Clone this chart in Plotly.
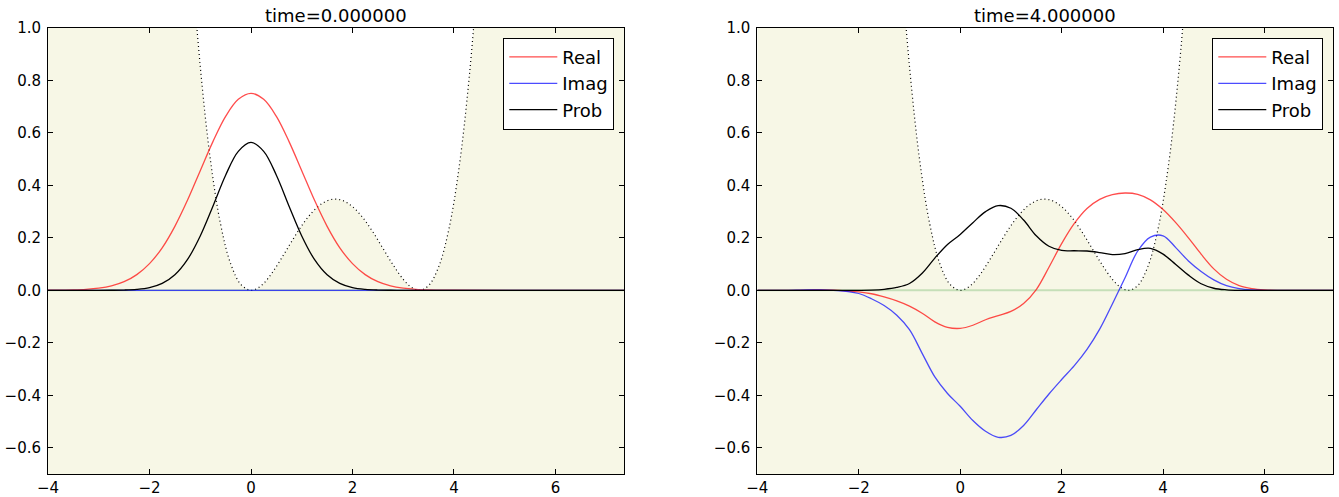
import plotly.graph_objects as go

# ---------------- data ----------------
TITLES = ["time=0.000000", "time=4.000000"]
SERIES_NAMES = ["Real", "Imag", "Prob"]

# double-well potential (same in both panels)
X_POT = [-4.0, -3.0, -2.0, -1.4, -1.2, -1.0, -0.8, -0.6, -0.4, -0.2, 0.0,
         0.2, 0.4, 0.6, 0.8, 1.0, 1.2, 1.4, 1.6, 1.8, 2.0, 2.2, 2.4, 2.6, 2.8, 3.0,
         3.15, 3.32, 3.5, 3.7, 3.9, 4.1, 4.3, 4.5, 4.7, 5.0, 5.6, 6.4, 7.35]
V_POT = [39.3, 16.5, 5.18, 2.00, 1.347, 0.855, 0.498, 0.253, 0.101, 0.0227, 0.0,
         0.0178, 0.0625, 0.122, 0.186, 0.2465, 0.2964, 0.331, 0.347, 0.343, 0.319,
         0.278, 0.223, 0.160, 0.097, 0.042, 0.0131, 0.0, 0.0182, 0.0905, 0.234,
         0.468, 0.813, 1.291, 1.927, 3.23, 7.47, 17.8, 40.2]
FLOOR = -1.0

# time = 0
X0 = [-4.0, -3.75, -3.5, -3.25, -3.0, -2.75, -2.5, -2.25, -2.0, -1.75, -1.5, -1.25,
      -1.0, -0.75, -0.5, -0.25, 0.0, 0.25, 0.5, 0.75, 1.0, 1.25, 1.5, 1.75, 2.0,
      2.25, 2.5, 2.75, 3.0, 3.25, 3.5, 3.75, 4.0, 7.35]
REAL0 = [0.0003, 0.0007, 0.0016, 0.0038, 0.0083, 0.017, 0.033, 0.060, 0.102, 0.162,
         0.244, 0.344, 0.456, 0.567, 0.663, 0.728, 0.751, 0.728, 0.663, 0.567, 0.456,
         0.344, 0.244, 0.162, 0.102, 0.060, 0.033, 0.017, 0.0083, 0.0038, 0.0016,
         0.0007, 0.0003, 0.0]
IMAG0 = [0.0, 0.0, 0.0, 0.0, 0.0, 0.0, 0.0, 0.0, 0.0, 0.0, 0.0, 0.0, 0.0, 0.0, 0.0,
         0.0, 0.0, 0.0, 0.0, 0.0, 0.0, 0.0, 0.0, 0.0, 0.0, 0.0, 0.0, 0.0, 0.0, 0.0,
         0.0, 0.0, 0.0, 0.0]
PROB0 = [0.0, 0.0, 0.0, 0.0, 0.0, 0.0003, 0.0011, 0.0036, 0.0103, 0.0264, 0.0594,
         0.118, 0.2075, 0.321, 0.439, 0.530, 0.564, 0.530, 0.439, 0.321, 0.2075,
         0.118, 0.0594, 0.0264, 0.0103, 0.0036, 0.0011, 0.0003, 0.0, 0.0, 0.0, 0.0,
         0.0, 0.0]

# time = 4
X4 = [-4.0, -3.5, -3.0, -2.75, -2.5, -2.25, -2.0, -1.75, -1.5, -1.25, -1.0, -0.75,
      -0.5, -0.25, 0.0, 0.25, 0.5, 0.75, 1.0, 1.25, 1.5, 1.75, 2.0, 2.25, 2.5, 2.75,
      3.0, 3.25, 3.5, 3.75, 4.0, 4.25, 4.5, 4.75, 5.0, 5.25, 5.5, 5.75, 6.0, 6.25,
      6.5, 7.35]
REAL4 = [0.0, 0.0, 0.001, 0.002, 0.001, -0.002, -0.006, -0.013, -0.025, -0.040,
         -0.060, -0.087, -0.120, -0.141, -0.145, -0.133, -0.112, -0.096, -0.080,
         -0.050, 0.003, 0.088, 0.178, 0.255, 0.312, 0.347, 0.365, 0.371, 0.366,
         0.345, 0.308, 0.258, 0.200, 0.138, 0.082, 0.042, 0.018, 0.007, 0.002, 0.0,
         0.0, 0.0]
IMAG4 = [0.0, 0.0, 0.002, 0.002, 0.0, -0.004, -0.012, -0.032, -0.058, -0.095,
         -0.150, -0.240, -0.330, -0.393, -0.442, -0.496, -0.537, -0.560, -0.553,
         -0.515, -0.455, -0.395, -0.340, -0.287, -0.225, -0.148, -0.052, 0.048,
         0.150, 0.203, 0.208, 0.163, 0.112, 0.072, 0.040, 0.018, 0.007, 0.002, 0.0,
         0.0, 0.0, 0.0]
PROB4 = [0.0, 0.0, 0.0, 0.0, 0.0, 0.0, 0.0002, 0.001, 0.004, 0.011, 0.026, 0.065,
         0.123, 0.175, 0.213, 0.258, 0.300, 0.323, 0.313, 0.268, 0.208, 0.168, 0.152,
         0.151, 0.150, 0.144, 0.136, 0.140, 0.155, 0.160, 0.138, 0.099, 0.058, 0.025,
         0.008, 0.002, 0.0, 0.0, 0.0, 0.0, 0.0, 0.0]

ZERO_X = [-4.0, 7.35]
ZERO_Y = [0.0, 0.0]

PANELS = [
    (X0, REAL0, IMAG0, PROB0),
    (X4, REAL4, IMAG4, PROB4),
]

X_RANGE = [-4.0, 7.35]
Y_RANGE = [-0.7, 1.0]

# ---------------- styles ----------------
FONT = "DejaVu Sans"
BEIGE = "#f7f7e6"
COLORS = ["rgba(255,0,0,0.7)", "rgba(0,0,255,0.7)", "black"]
ZERO_COLOR = "rgba(0,128,0,0.2)"

fig = go.Figure()

for i, (xs, re, im, pr) in enumerate(PANELS):
    sfx = "" if i == 0 else str(i + 1)
    xa, ya = "x" + sfx, "y" + sfx
    leg = "legend" + sfx
    # baseline for the fill
    fig.add_trace(go.Scatter(x=X_POT, y=[FLOOR] * len(X_POT), mode="lines",
                             line=dict(width=0, color=BEIGE), hoverinfo="skip",
                             showlegend=False, xaxis=xa, yaxis=ya))
    fig.add_trace(go.Scatter(x=X_POT, y=V_POT, mode="lines", fill="tonexty",
                             fillcolor=BEIGE, line=dict(width=0, color=BEIGE, shape="spline"),
                             hoverinfo="skip", showlegend=False, xaxis=xa, yaxis=ya))
    fig.add_trace(go.Scatter(x=X_POT, y=V_POT, mode="lines",
                             line=dict(width=1.2, color="black", dash="1px,3px", shape="spline"),
                             showlegend=False, xaxis=xa, yaxis=ya))
    fig.add_trace(go.Scatter(x=ZERO_X, y=ZERO_Y, mode="lines",
                             line=dict(width=2, color=ZERO_COLOR),
                             showlegend=False, xaxis=xa, yaxis=ya))
    for name, ys, col in zip(SERIES_NAMES, (re, im, pr), COLORS):
        fig.add_trace(go.Scatter(x=xs, y=ys, mode="lines", name=name,
                                 line=dict(width=1.3, color=col, shape="spline"),
                                 legend=leg, xaxis=xa, yaxis=ya))

axis_common = dict(
    showline=True, linecolor="black", linewidth=1, mirror="ticks",
    ticks="inside", ticklen=5, tickwidth=1, tickcolor="black",
    showgrid=False, zeroline=False, automargin=False,
    tickfont=dict(family=FONT, size=15, color="black"),
)

L, R, T, B = 48, 6, 28, 23
W, H = 1339, 497
pw = W - L - R
ph = H - T - B
d1 = [0.0, (624 - L) / pw]
d2 = [(757.3 - L) / pw, 1.0]

legend_common = dict(xanchor="right", yanchor="top", bgcolor="white",
                     bordercolor="black", borderwidth=1, traceorder="normal",
                     itemwidth=48, font=dict(family=FONT, size=18, color="black"))

fig.update_layout(
    width=W, height=H,
    margin=dict(l=L, r=R, t=T, b=B, pad=0, autoexpand=False),
    paper_bgcolor="white", plot_bgcolor="white",
    font=dict(family=FONT, color="black"),
    xaxis=dict(domain=d1, range=X_RANGE, dtick=2, tick0=0, ticklabelstandoff=0, **axis_common),
    yaxis=dict(domain=[0, 1], range=Y_RANGE, dtick=0.2, tick0=0, tickformat=".1f",
               ticklabelstandoff=3, **axis_common),
    xaxis2=dict(domain=d2, range=X_RANGE, dtick=2, tick0=0, anchor="y2",
                ticklabelstandoff=0, **axis_common),
    yaxis2=dict(domain=[0, 1], range=Y_RANGE, dtick=0.2, tick0=0, tickformat=".1f",
                anchor="x2", ticklabelstandoff=3, **axis_common),
    legend=dict(x=(614.3 - L) / pw, y=1 - (37.7 - T) / ph, **legend_common),
    legend2=dict(x=(1323.3 - L) / pw, y=1 - (37.7 - T) / ph, **legend_common),
    annotations=[
        dict(text=TITLES[0], x=(d1[0] + d1[1]) / 2, y=1, xref="paper", yref="paper",
             xanchor="center", yanchor="bottom", yshift=0, showarrow=False,
             font=dict(family=FONT, size=18, color="black")),
        dict(text=TITLES[1], x=(d2[0] + d2[1]) / 2, y=1, xref="paper", yref="paper",
             xanchor="center", yanchor="bottom", yshift=0, showarrow=False,
             font=dict(family=FONT, size=18, color="black")),
    ],
)

fig.write_html(
    "out.html",
    config={"responsive": False, "displayModeBar": False},
    post_script="document.body.style.margin='0px';document.body.style.overflow='hidden';",
)
